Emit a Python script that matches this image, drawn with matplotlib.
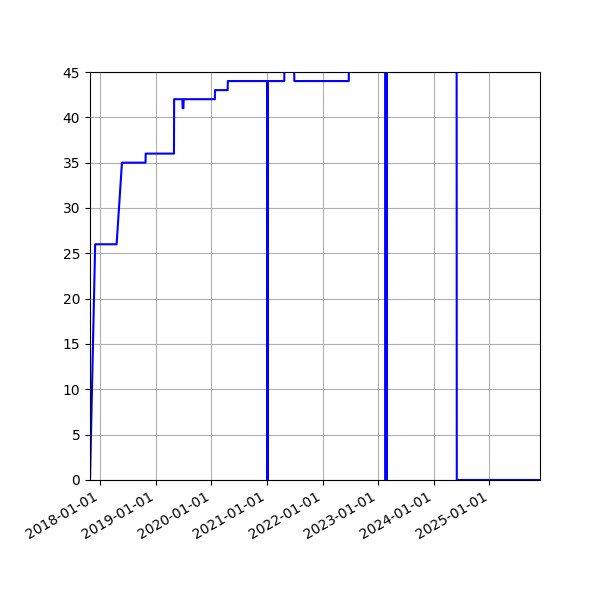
import matplotlib
matplotlib.use("Agg")
import matplotlib.pyplot as plt
import matplotlib.dates as mdates
import pandas as pd

dates = [
    "2017-10-25", "2017-11-28",
    "2018-04-18", "2018-05-23",
    "2018-10-25", "2018-10-26",
    "2019-04-30", "2019-05-01",
    "2019-06-24", "2019-06-26", "2019-07-01", "2019-07-03",
    "2020-01-24", "2020-01-25",
    "2020-04-17", "2020-04-18",
    "2021-01-03", "2021-01-04", "2021-01-05",
    "2021-04-24", "2021-04-25",
    "2021-06-28", "2021-06-29",
    "2022-06-22", "2022-06-23",
    "2023-02-16", "2023-02-19", "2023-02-22", "2023-02-25", "2023-02-28",
    "2024-05-31", "2024-06-01",
    "2025-11-30",
]
values = [
    0, 26,
    26, 35,
    35, 36,
    36, 42,
    42, 41, 41, 42,
    42, 43,
    43, 44,
    44, 0, 44,
    44, 46,
    46, 44,
    44, 46,
    46, 0, 46, 0, 46,
    46, 0,
    0,
]

x = pd.to_datetime(dates)

fig = plt.figure(figsize=(6, 6), dpi=100)
ax = fig.add_subplot(111)
ax.plot(x, values, color="blue")
ax.set_ylim(0, 45)
ax.set_xlim(x[0], x[-1])
ax.xaxis.set_major_locator(mdates.YearLocator())
ax.xaxis.set_major_formatter(mdates.DateFormatter("%Y-%m-%d"))
ax.grid(True)
fig.autofmt_xdate()
fig.subplots_adjust(left=0.15, right=0.9, top=0.88, bottom=0.2)
fig.savefig("out.png", dpi=100)
